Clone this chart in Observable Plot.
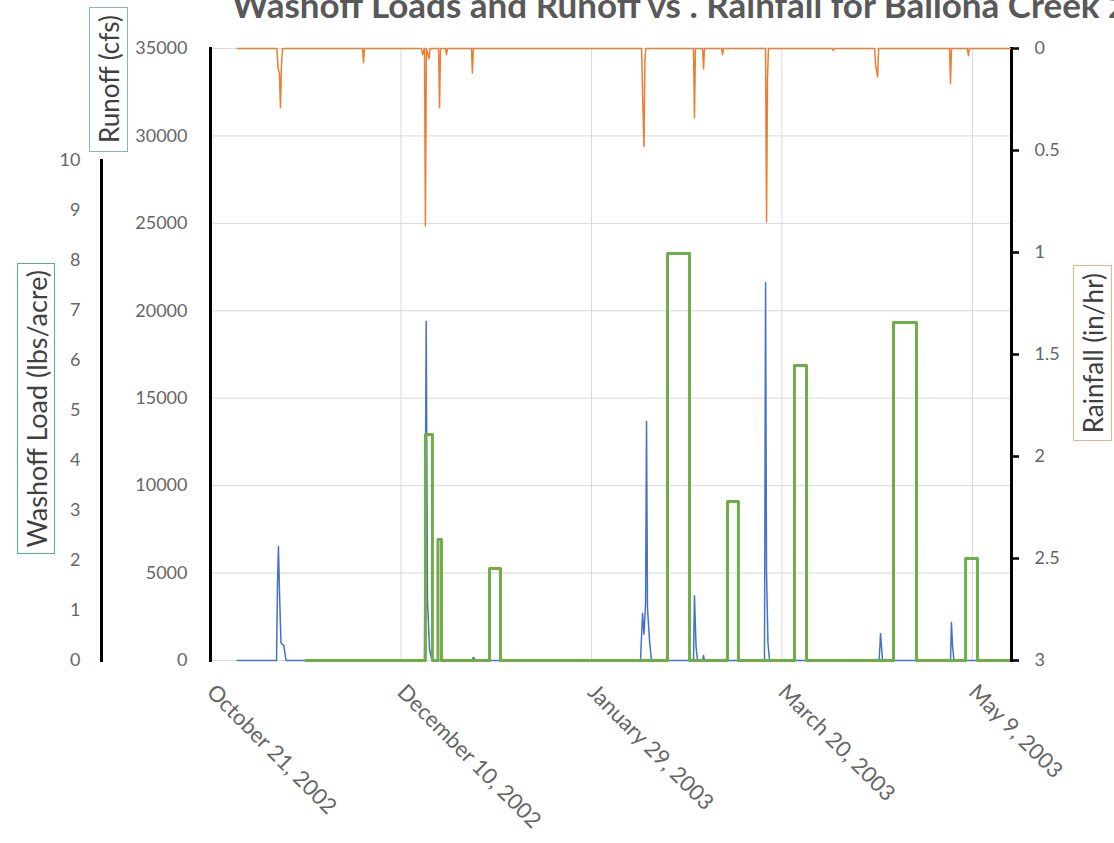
<!DOCTYPE html>
<html><head><meta charset="utf-8">
<script src="https://cdn.jsdelivr.net/npm/d3@7"></script>
<script src="https://cdn.jsdelivr.net/npm/@observablehq/plot@0.6"></script>
<style>
html,body{margin:0;padding:0;background:#fff;overflow:hidden;}
#chart{position:relative;width:1114px;height:843px;overflow:hidden;font-family:Lato,"Open Sans",sans-serif;}
#chart svg{position:absolute;left:0;top:0;}
.title{position:absolute;left:232px;top:-17px;font-weight:bold;font-size:35px;line-height:1.2;color:#595959;white-space:nowrap;}
.ylab{position:absolute;box-sizing:border-box;border:1px solid;display:flex;align-items:center;justify-content:center;color:#404040;font-size:26px;}
.ylab span{writing-mode:vertical-rl;transform:rotate(180deg);white-space:nowrap;}
</style></head>
<body>
<div id="chart">
  <div class="title">Washoff Loads and Runoff vs . Rainfall for Ballona Creek 2002-2003</div>
  <div class="ylab" style="left:89px;top:7px;width:39px;height:145px;border-color:#7fb2e0;"><span>Runoff (cfs)</span></div>
  <div class="ylab" style="left:17px;top:263px;width:38px;height:291px;border-color:#4fb38f;font-size:27px;"><span>Washoff Load (lbs/acre)</span></div>
  <div class="ylab" style="left:1073px;top:265px;width:39px;height:176px;border-color:#f4b183;"><span>Rainfall (in/hr)</span></div>
</div>
<script>
// ---- data ----
const xTickDates = ["2002-10-21T00:00","2002-12-10T00:00","2003-01-29T00:00","2003-03-20T00:00","2003-05-09T00:00"];
const runoffTicks = [0,5000,10000,15000,20000,25000,30000,35000];
const washoffTicks = [0,1,2,3,4,5,6,7,8,9,10];
const rainfallTicks = [0,0.5,1,1.5,2,2.5,3];

const runoffDates = [
 "2002-10-28T00:00","2002-11-07T08:00","2002-11-07T14:00","2002-11-07T20:00","2002-11-08T03:00","2002-11-08T12:00","2002-11-09T06:00","2002-11-09T20:00",
 "2002-12-16T04:00","2002-12-16T15:00","2002-12-16T23:00","2002-12-17T12:00","2002-12-18T04:00",
 "2002-12-28T12:00","2002-12-29T01:00","2002-12-29T14:00",
 "2003-02-10T21:00","2003-02-11T10:00","2003-02-11T19:00","2003-02-12T05:00","2003-02-12T11:00","2003-02-12T17:00","2003-02-13T06:00","2003-02-13T18:00",
 "2003-02-24T19:00","2003-02-25T01:00","2003-02-25T11:00","2003-02-25T20:00",
 "2003-02-27T04:00","2003-02-27T10:00","2003-02-27T16:00",
 "2003-03-15T10:00","2003-03-15T17:00","2003-03-15T23:00","2003-03-16T08:00","2003-03-16T18:00",
 "2003-04-14T12:00","2003-04-14T18:00","2003-04-14T21:00","2003-04-15T10:00",
 "2003-05-03T06:00","2003-05-03T12:00","2003-05-03T19:00","2003-05-04T04:00",
 "2003-05-18T12:00"
];
const runoffValues = [
 0,0,4300,6520,3800,1000,850,0,
 0,19400,3500,600,0,
 0,170,0,
 0,2690,1500,3260,13670,3000,1140,0,
 0,3700,800,0,
 0,290,0,
 0,21600,5000,1000,0,
 0,900,1550,0,
 0,2170,800,0,
 0
];

const rainfallDates = [
 "2002-10-28T00:00","2002-11-07T10:00","2002-11-07T18:00","2002-11-08T02:00","2002-11-08T09:00","2002-11-08T15:00","2002-11-08T22:00",
 "2002-11-29T22:00","2002-11-30T04:00","2002-11-30T10:00",
 "2002-12-15T10:00","2002-12-15T16:00","2002-12-16T04:00","2002-12-16T10:00","2002-12-16T16:00","2002-12-17T09:00","2002-12-17T15:00",
 "2002-12-19T21:00","2002-12-20T03:00","2002-12-20T09:00","2002-12-21T17:00","2002-12-21T23:00","2002-12-22T05:00",
 "2002-12-28T12:00","2002-12-28T18:00","2002-12-29T00:00",
 "2003-02-11T04:00","2003-02-11T10:00","2003-02-11T19:00","2003-02-12T01:00","2003-02-12T07:00",
 "2003-02-24T19:00","2003-02-25T01:00","2003-02-25T07:00",
 "2003-02-27T04:00","2003-02-27T10:00","2003-02-27T16:00",
 "2003-03-04T04:00","2003-03-04T10:00","2003-03-04T16:00",
 "2003-03-15T17:00","2003-03-15T23:00","2003-03-16T05:00","2003-03-16T11:00",
 "2003-04-02T06:00","2003-04-02T12:00","2003-04-02T18:00",
 "2003-04-13T08:00","2003-04-13T14:00","2003-04-14T03:00","2003-04-14T09:00",
 "2003-05-03T00:00","2003-05-03T06:00","2003-05-03T12:00",
 "2003-05-07T17:00","2003-05-07T23:00","2003-05-08T05:00",
 "2003-05-19T00:00"
];
const rainfallValues = [
 0,0,0.10,0.12,0.29,0.08,0,
 0,0.07,0,
 0,0.03,0,0.87,0,0.05,0,
 0,0.29,0,0,0.03,0,
 0,0.12,0,
 0,0.22,0.48,0.05,0,
 0,0.34,0,
 0,0.10,0,
 0,0.03,0,
 0,0.85,0.15,0,
 0,0.01,0,
 0,0.08,0.14,0,
 0,0.17,0,
 0,0.035,0,
 0
];

const washoffDates = [
 "2002-11-15T00:00",
 "2002-12-16T10:00","2002-12-18T06:00",
 "2002-12-19T17:00","2002-12-20T15:00",
 "2003-01-02T06:00","2003-01-05T03:00",
 "2003-02-17T23:00","2003-02-23T18:00",
 "2003-03-05T17:00","2003-03-08T14:00",
 "2003-03-23T07:00","2003-03-26T11:00",
 "2003-04-18T07:00","2003-04-24T08:00",
 "2003-05-07T05:00","2003-05-10T08:00",
 "2003-05-19T00:00"
];
const washoffValues = [
 0,
 4.52,0,
 2.42,0,
 1.84,0,
 8.14,0,
 3.18,0,
 5.9,0,
 6.76,0,
 2.04,0,
 0
];

// ---- build ----
const parse = d3.utcParse("%Y-%m-%dT%H:%M");
const xDomain = [parse("2002-10-21T00:00"), parse("2003-05-19T00:00")];
const xTicks = xTickDates.map(parse);
const runoff = runoffDates.map((d,i)=>({date:parse(d), value:runoffValues[i]}));
const rainfall = rainfallDates.map((d,i)=>({date:parse(d), value:rainfallValues[i]}));
const washoff = washoffDates.map((d,i)=>({date:parse(d), value:washoffValues[i]}));
const fmt = d3.utcFormat("%B %-d, %Y");
const num = d => String(d);

const common = {width:1114, height:843,
  style:{background:"transparent", overflow:"visible", fontFamily:"Lato, 'Open Sans', sans-serif", color:"#666"}};

const plotRunoff = Plot.plot({
  ...common,
  marginLeft:210, marginRight:104, marginTop:48, marginBottom:183,
  x:{type:"utc", domain:xDomain, range:[210,1010], label:null},
  y:{domain:[0,35000], range:[660,48], label:null},
  marks:[
    Plot.gridY(runoffTicks, {stroke:"#d9d9d9", strokeOpacity:1}),
    Plot.gridX(xTicks.slice(1), {stroke:"#d9d9d9", strokeOpacity:1}),
    Plot.axisY(runoffTicks, {tickSize:0, tickPadding:23, fontSize:18, label:null, tickFormat:num}),
    Plot.axisX(xTicks, {tickSize:0, tickRotate:45, tickPadding:28, fontSize:22, label:null, tickFormat:fmt}),
    Plot.lineY(runoff, {x:"date", y:"value", stroke:"#4472c4", strokeWidth:1.5}),
    Plot.frame({anchor:"left", stroke:"black", strokeWidth:3})
  ]
});

const plotWashoff = Plot.plot({
  ...common,
  marginLeft:101, marginRight:104, marginTop:160, marginBottom:183,
  x:{type:"utc", domain:xDomain, range:[210,1010], axis:null},
  y:{domain:[0,10], range:[660,160], label:null},
  marks:[
    Plot.axisY(washoffTicks, {tickSize:0, tickPadding:21, fontSize:18, label:null, tickFormat:num}),
    Plot.frame({anchor:"left", stroke:"black", strokeWidth:3}),
    Plot.line(washoff, {x:"date", y:"value", curve:"step-after", stroke:"#70ad47", strokeWidth:3})
  ]
});

const plotRain = Plot.plot({
  ...common,
  marginLeft:210, marginRight:103, marginTop:48, marginBottom:183,
  x:{type:"utc", domain:xDomain, range:[210,1010], axis:null},
  y:{domain:[0,3], range:[48,660], label:null},
  marks:[
    Plot.axisY(rainfallTicks, {anchor:"right", tickSize:7, tickPadding:16, fontSize:18, label:null, tickFormat:num, stroke:"black", strokeWidth:2.5, fill:"#666"}),
    Plot.frame({anchor:"right", stroke:"black", strokeWidth:3}),
    Plot.lineY(rainfall, {x:"date", y:"value", stroke:"#ed7d31", strokeWidth:1.5})
  ]
});

const chart = document.getElementById("chart");
const title = chart.querySelector(".title");
chart.insertBefore(plotRunoff, title);
chart.insertBefore(plotWashoff, title);
chart.insertBefore(plotRain, title);
</script>
</body></html>
